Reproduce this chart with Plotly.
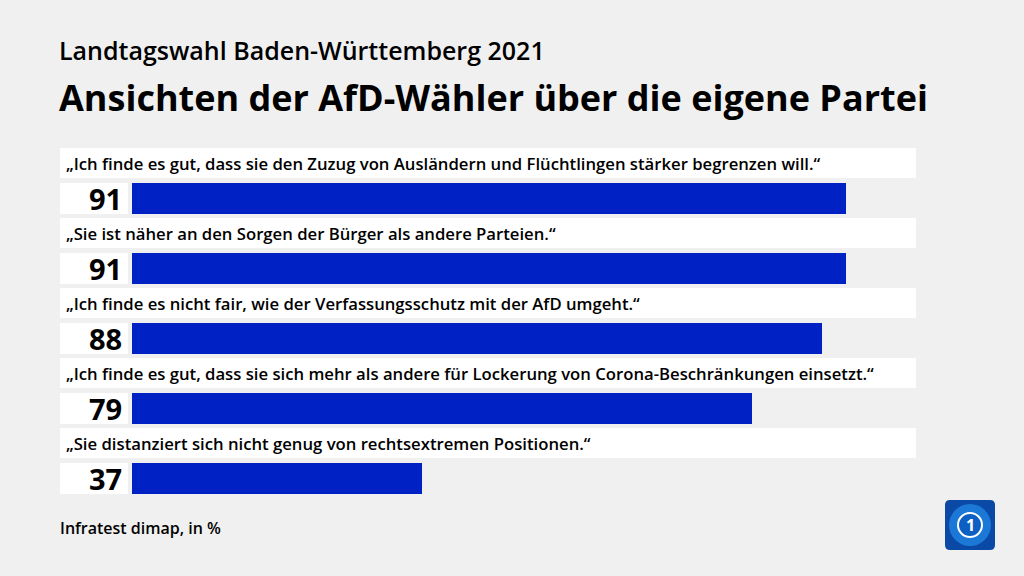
import plotly.graph_objects as go

statements = [
    "„Ich finde es gut, dass sie den Zuzug von Ausländern und Flüchtlingen stärker begrenzen will.“",
    "„Sie ist näher an den Sorgen der Bürger als andere Parteien.“",
    "„Ich finde es nicht fair, wie der Verfassungsschutz mit der AfD umgeht.“",
    "„Ich finde es gut, dass sie sich mehr als andere für Lockerung von Corona-Beschränkungen einsetzt.“",
    "„Sie distanziert sich nicht genug von rechtsextremen Positionen.“",
]
values = [91, 91, 88, 79, 37]
title = "Landtagswahl Baden-Württemberg 2021"
subtitle = "Ansichten der AfD-Wähler über die eigene Partei"
source = "Infratest dimap, in %"

BAR = "#0021c4"
BG = "#f0f0f0"
FONT = "Open Sans"

W, H = 1024, 576
X0, PX_PER = 132.0, 714.0 / 91.0  # pixel of value 0, px per unit
Y0, PITCH = 198.5, 70.0           # pixel of first bar centre, row pitch

def vx(px):
    return (px - X0) / PX_PER

def vy(py):
    return (py - Y0) / PITCH

rows = list(range(len(values)))

fig = go.Figure()
fig.add_trace(go.Bar(
    x=values, y=rows, orientation="h",
    marker=dict(color=BAR, line=dict(width=0)),
    width=31 / PITCH, hoverinfo="skip",
))

shapes = []
annotations = []
for i, (s, v) in enumerate(zip(statements, values)):
    shapes.append(dict(type="rect", xref="x", yref="y", x0=vx(60), x1=vx(916),
                       y0=i + vy(148), y1=i + vy(178), fillcolor="white",
                       line=dict(width=0), layer="below"))
    shapes.append(dict(type="rect", xref="x", yref="y", x0=vx(60), x1=vx(128),
                       y0=i - 15.5 / PITCH, y1=i + 15.5 / PITCH, fillcolor="white",
                       line=dict(width=0), layer="below"))
    annotations.append(dict(x=vx(64), y=i + vy(163), xref="x", yref="y",
                            text=s, showarrow=False, xanchor="left", yanchor="middle",
                            font=dict(family=FONT, size=16.7, color="#000", weight=600)))
    annotations.append(dict(x=vx(124), y=i, xref="x", yref="y",
                            text=str(v), showarrow=False, xanchor="right", yanchor="middle",
                            font=dict(family=FONT, size=29, color="#000", weight=700)))

annotations += [
    dict(x=57 / W, y=1 - 50 / H, xref="paper", yref="paper", text=title, showarrow=False,
         xanchor="left", yanchor="middle", font=dict(family=FONT, size=25, color="#000", weight=600)),
    dict(x=57 / W, y=1 - 97 / H, xref="paper", yref="paper", text=subtitle, showarrow=False,
         xanchor="left", yanchor="middle", font=dict(family=FONT, size=36, color="#000", weight=700)),
    dict(x=58 / W, y=1 - 528 / H, xref="paper", yref="paper", text=source, showarrow=False,
         xanchor="left", yanchor="middle", font=dict(family=FONT, size=16, color="#000", weight=600)),
    dict(x=970 / W, y=1 - 525 / H, xref="paper", yref="paper", text="1", showarrow=False,
         xanchor="center", yanchor="middle", font=dict(family=FONT, size=16, color="white", weight=700)),
]

# logo
shapes.append(dict(type="path", xref="paper", yref="paper",
                   path=("M {a},{t} L {b},{t} Q {r},{t} {r},{u} L {r},{v} Q {r},{bt} {b},{bt} "
                         "L {a},{bt} Q {l},{bt} {l},{v} L {l},{u} Q {l},{t} {a},{t} Z").format(
                       l=945 / W, r=995 / W, a=950 / W, b=990 / W,
                       t=1 - 500 / H, bt=1 - 550 / H, u=1 - 505 / H, v=1 - 545 / H),
                   fillcolor="#0a4aa6", line=dict(width=0)))
shapes.append(dict(type="circle", xref="paper", yref="paper", x0=949 / W, x1=991 / W,
                   y0=1 - 546 / H, y1=1 - 504 / H, fillcolor="#1c78d6", line=dict(width=0)))
shapes.append(dict(type="circle", xref="paper", yref="paper", x0=958 / W, x1=982 / W,
                   y0=1 - 537 / H, y1=1 - 513 / H, fillcolor="#0d5fc4",
                   line=dict(width=2, color="white")))

fig.update_layout(
    width=W, height=H,
    margin=dict(l=0, r=0, t=0, b=0),
    paper_bgcolor=BG, plot_bgcolor=BG,
    showlegend=False,
    bargap=0,
    xaxis=dict(range=[vx(0), vx(W)], domain=[0, 1], visible=False, fixedrange=True),
    yaxis=dict(range=[vy(H), vy(0)], domain=[0, 1], visible=False, fixedrange=True),
    shapes=shapes,
    annotations=annotations,
)

fig.write_html("out.html", post_script="document.body.style.margin='0';document.body.style.background='%s';" % BG,
               config={"displayModeBar": False})
